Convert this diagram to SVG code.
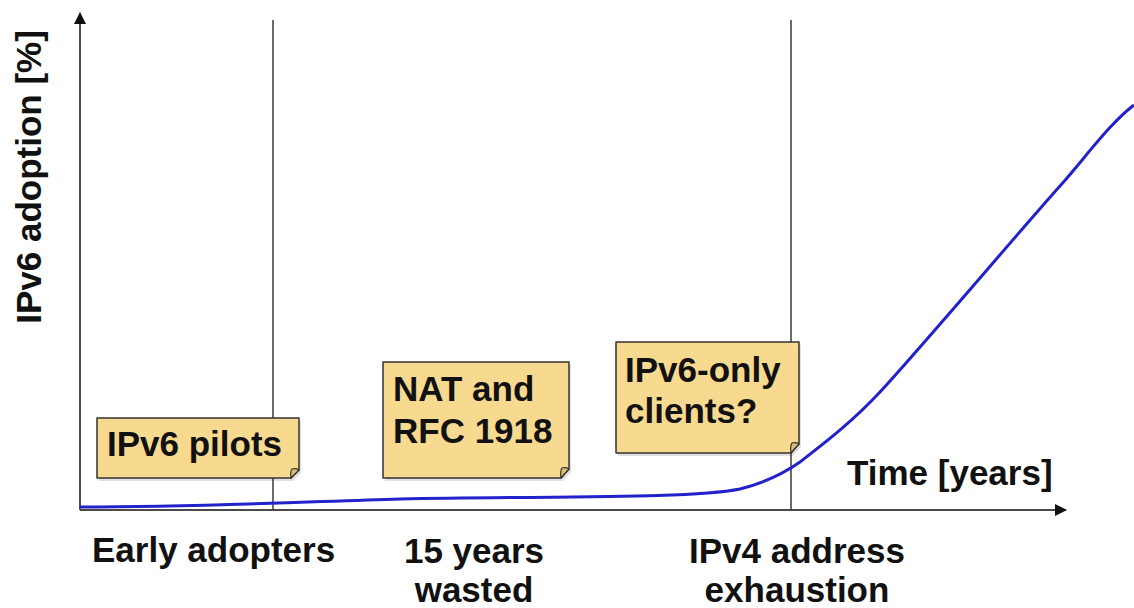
<svg xmlns="http://www.w3.org/2000/svg" width="1134" height="608" viewBox="0 0 1134 608">
  <style>
    .lbl { font-family: "Liberation Sans", Arial, sans-serif; font-weight: bold; font-size: 35px; fill: #111; }
    .mid { text-anchor: middle; }
    .axis { stroke: #4a4a4a; stroke-width: 2; fill: none; }
    .mark { stroke: #3a3a3a; stroke-width: 1.5; fill: none; }
    .note { fill: #f7d98f; stroke: #333; stroke-width: 1.5; stroke-linejoin: round; }
    .curl { fill: #d9bc72; stroke: #333; stroke-width: 1.2; stroke-linejoin: round; }
    .shadow { fill: #000; opacity: 0.12; }
  </style>
  <defs>
    <marker id="arrow" viewBox="0 0 12 12" refX="11" refY="6" markerWidth="12" markerHeight="12" markerUnits="userSpaceOnUse" orient="auto">
      <path d="M0,0 L12,6 L0,12 Z" fill="#111"/>
    </marker>
  </defs>
  <rect width="1134" height="608" fill="#fff"/>

  <!-- axes and milestone markers -->
  <g id="connectors">
    <line class="axis" x1="80" y1="510" x2="80" y2="13" marker-end="url(#arrow)"/>
    <line class="axis" x1="80" y1="510" x2="1066" y2="510" marker-end="url(#arrow)"/>
    <line class="mark" x1="273" y1="20" x2="273" y2="510"/>
    <line class="mark" x1="791" y1="20" x2="791" y2="510"/>
    <!-- adoption curve -->
    <path d="M80,507 C200,507 300,502 400,499 C550,496 690,499 740,489 C760,484 780,476 800,462 C827,441 853,421 880,392 C920,349 1030,219 1060,186 C1085,158 1110,123 1134,105" fill="none" stroke="#2222cc" stroke-width="3"/>
  </g>

  <!-- axis labels -->
  <g id="y-label">
    <text class="lbl mid" transform="translate(41,177) rotate(-90)">IPv6 adoption [%]</text>
  </g>
  <g id="x-label">
    <text class="lbl" x="847" y="485">Time [years]</text>
  </g>

  <!-- sticky notes -->
  <g id="note-pilots">
    <path class="shadow" d="M99,421 H301 V473 L293,481 H99 Z"/>
    <path class="note" d="M97,418 H299 V470 L291,478 H97 Z"/>
    <path class="curl" d="M299,470 L291,478 Q290,472 292,469 Q296,468 299,470 Z"/>
    <text class="lbl" x="107" y="456">IPv6 pilots</text>
  </g>
  <g id="note-nat">
    <path class="shadow" d="M385,365 H571 V472 L563,481 H385 Z"/>
    <path class="note" d="M383,362 H569 V469 L561,478 H383 Z"/>
    <path class="curl" d="M569,469 L561,478 Q560,471 562,468 Q566,467 569,469 Z"/>
    <text class="lbl" x="393" y="401">NAT and</text>
    <text class="lbl" x="393" y="443">RFC 1918</text>
  </g>
  <g id="note-ipv6only">
    <path class="shadow" d="M618,345 H801 V447 L793,456 H618 Z"/>
    <path class="note" d="M616,342 H799 V444 L791,453 H616 Z"/>
    <path class="curl" d="M799,444 L791,453 Q790,446 792,443 Q796,442 799,444 Z"/>
    <text class="lbl" x="625" y="382">IPv6-only</text>
    <text class="lbl" x="625" y="423">clients?</text>
  </g>

  <!-- phase labels -->
  <g id="phase-early">
    <text class="lbl" x="92" y="562">Early adopters</text>
  </g>
  <g id="phase-wasted">
    <text class="lbl mid" x="474" y="563">15 years</text>
    <text class="lbl mid" x="474" y="602">wasted</text>
  </g>
  <g id="phase-exhaustion">
    <text class="lbl mid" x="797" y="563">IPv4 address</text>
    <text class="lbl mid" x="797" y="602">exhaustion</text>
  </g>
</svg>
